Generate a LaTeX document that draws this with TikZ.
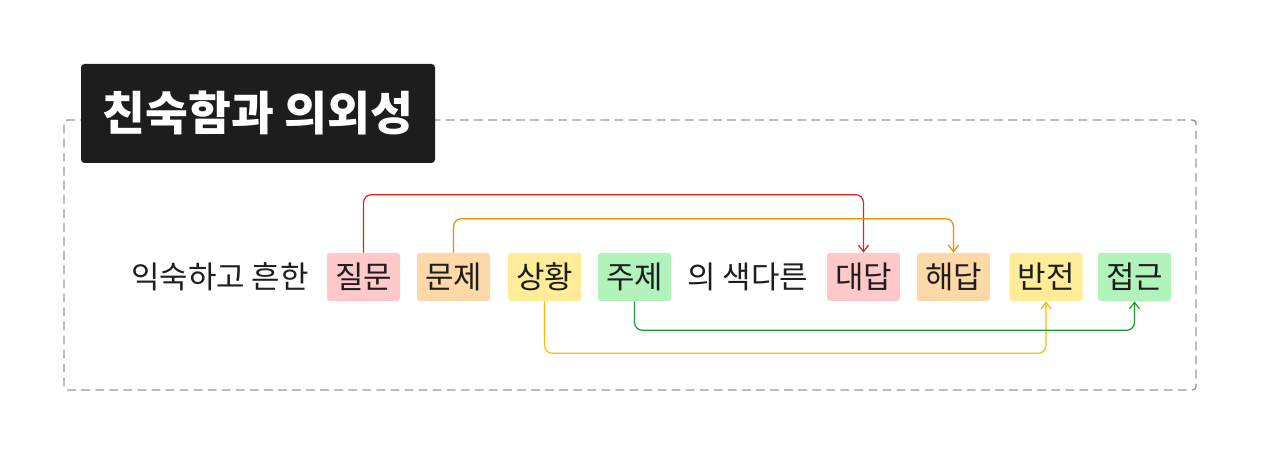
\documentclass[tikz,border=0pt]{standalone}
\usepackage{fontspec}
\usepackage{xcolor}
\usepackage{tikz}
\usetikzlibrary{arrows.meta, positioning, calc}
\setmainfont{Noto Sans CJK KR}
\newfontfamily\krfont{Noto Sans CJK KR}
\definecolor{kink}{HTML}{1E1E1E}
\definecolor{kpink}{HTML}{FFC9C9}
\definecolor{kpeach}{HTML}{FFD8A8}
\definecolor{klemon}{HTML}{FFEC99}
\definecolor{kmint}{HTML}{B2F2BB}
\definecolor{kred}{HTML}{D62424}
\definecolor{korange}{HTML}{F08C00}
\definecolor{kyellow}{HTML}{F5BE00}
\definecolor{kgreen}{HTML}{20963A}
\definecolor{kframe}{HTML}{9A9A9A}

\begin{document}
\begin{tikzpicture}[x=1cm, y=1cm,
  chip/.style={rounded corners=1.5pt, minimum width=1.46cm, minimum height=0.96cm,
    inner sep=0pt, font=\krfont\fontsize{17.6}{20}\selectfont, text=kink},
  plain/.style={inner sep=0pt, font=\krfont\fontsize{17.6}{20}\selectfont, text=kink},
  link/.style={line width=0.7pt, rounded corners=0.16cm,
    -{Straight Barb[length=0.13cm, width=0.2cm]}}]
\useasboundingbox (0,0) rectangle (25.6,9.12);
\fill[white] (0,0) rectangle (25.6,9.12);
\draw[kframe, line width=0.8pt, dash pattern=on 5pt off 3pt, rounded corners=2pt]
  (1.28,1.32) rectangle (23.92,6.72);
\fill[kink!95!black, rounded corners=2pt] (1.62,5.86) rectangle (8.70,7.84);
\node[font=\krfont\bfseries\fontsize{26.5}{32}\selectfont, text=white]
  (title) at (5.16,6.86) {친숙함과 의외성};
\node[plain] (lead) at (4.40,3.58) {익숙하고 흔한};
\node[chip, fill=kpink] (qa) at (7.27,3.58) {질문};
\node[chip, fill=kpeach] (qb) at (9.07,3.58) {문제};
\node[chip, fill=klemon] (qc) at (10.89,3.58) {상황};
\node[chip, fill=kmint] (qd) at (12.69,3.58) {주제};
\node[plain] (mid) at (14.96,3.58) {의 색다른};
\node[chip, fill=kpink] (aa) at (17.27,3.58) {대답};
\node[chip, fill=kpeach] (ab) at (19.07,3.58) {해답};
\node[chip, fill=klemon] (ac) at (20.92,3.58) {반전};
\node[chip, fill=kmint] (ad) at (22.69,3.58) {접근};
\draw[link, kred] (qa.north) -- ([yshift=1.16cm]qa.north) -| (aa.north);
\draw[link, korange] (qb.north) -- ([yshift=0.68cm]qb.north) -| (ab.north);
\draw[link, kyellow] (qc.south) -- ([yshift=-1.04cm]qc.south) -| (ac.south);
\draw[link, kgreen] (qd.south) -- ([yshift=-0.58cm]qd.south) -| (ad.south);
\end{tikzpicture}
\end{document}
